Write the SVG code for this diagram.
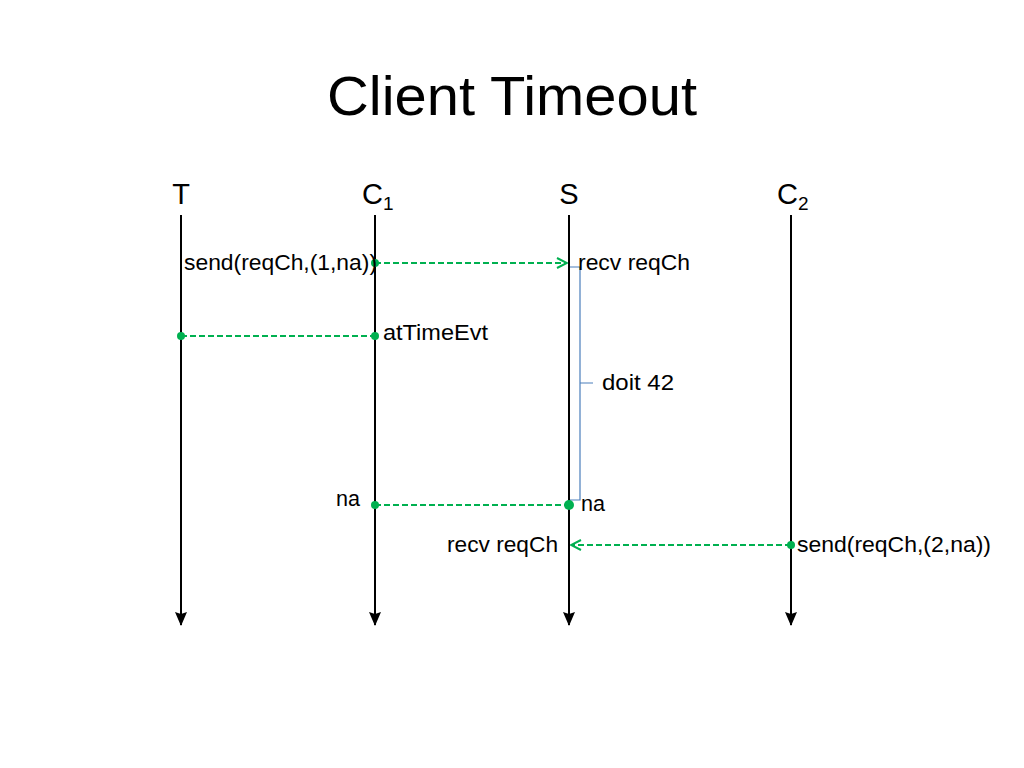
<svg xmlns="http://www.w3.org/2000/svg" width="1024" height="768" viewBox="0 0 1024 768">
<style>
text{font-family:"Liberation Sans",Arial,sans-serif;fill:#000}
.lbl{font-size:22px}
.hd{font-size:29px}
.life{stroke:#000;stroke-width:2;fill:none}
.msg{stroke:#00B050;stroke-width:2;stroke-dasharray:6 3;fill:none}
.dot{fill:#00B050}
.brace{stroke:#4A7EBB;stroke-width:1.2;fill:none}
</style>
<defs>
<marker id="ah" viewBox="0 0 14 12" refX="13" refY="6" markerWidth="14" markerHeight="12" markerUnits="userSpaceOnUse" orient="auto">
<path d="M0,0 L14,6 L0,12 L2,6 Z" fill="#000"/>
</marker>
<marker id="ga" viewBox="0 0 12 12" refX="11" refY="6" markerWidth="12" markerHeight="12" markerUnits="userSpaceOnUse" orient="auto">
<path d="M1,1 L11,6 L1,11" fill="none" stroke="#00B050" stroke-width="2"/>
</marker>
</defs>
<rect width="1024" height="768" fill="#fff"/>
<text x="512" y="115" text-anchor="middle" font-size="55" textLength="370" lengthAdjust="spacingAndGlyphs">Client Timeout</text>

<g id="lifeline-T">
<text class="hd" x="181" y="204" text-anchor="middle">T</text>
<line class="life" x1="181" y1="215" x2="181" y2="625" marker-end="url(#ah)"/>
</g>
<g id="lifeline-C1">
<text class="hd" x="362" y="204">C<tspan font-size="19" dy="6">1</tspan></text>
<line class="life" x1="375" y1="215" x2="375" y2="625" marker-end="url(#ah)"/>
</g>
<g id="lifeline-S">
<text class="hd" x="569" y="204" text-anchor="middle">S</text>
<line class="life" x1="569" y1="215" x2="569" y2="625" marker-end="url(#ah)"/>
</g>
<g id="lifeline-C2">
<text class="hd" x="777" y="204">C<tspan font-size="19" dy="6">2</tspan></text>
<line class="life" x1="791" y1="215" x2="791" y2="625" marker-end="url(#ah)"/>
</g>

<g id="brace">
<path class="brace" d="M570,267 H580 V500 H570 M580,383 H593"/>
</g>

<g id="connectors">
<line class="msg" x1="375" y1="263" x2="567" y2="263" marker-end="url(#ga)"/>
<circle class="dot" cx="375" cy="263" r="4"/>
<line class="msg" x1="181" y1="336" x2="375" y2="336"/>
<circle class="dot" cx="181" cy="336" r="4"/>
<circle class="dot" cx="375" cy="336" r="4"/>
<line class="msg" x1="375" y1="505" x2="569" y2="505"/>
<circle class="dot" cx="375" cy="505" r="4"/>
<circle class="dot" cx="569" cy="505" r="5"/>
<line class="msg" x1="791" y1="545" x2="571" y2="545" marker-end="url(#ga)"/>
<circle class="dot" cx="791" cy="545" r="4"/>
</g>

<g id="labels">
<text class="lbl" x="184" y="270" textLength="193" lengthAdjust="spacingAndGlyphs">send(reqCh,(1,na))</text>
<text class="lbl" x="578" y="270" textLength="112" lengthAdjust="spacingAndGlyphs">recv reqCh</text>
<text class="lbl" x="383" y="340" textLength="105" lengthAdjust="spacingAndGlyphs">atTimeEvt</text>
<text class="lbl" x="602" y="390" textLength="72" lengthAdjust="spacingAndGlyphs">doit 42</text>
<text class="lbl" x="336" y="506" textLength="24" lengthAdjust="spacingAndGlyphs">na</text>
<text class="lbl" x="581" y="511" textLength="24" lengthAdjust="spacingAndGlyphs">na</text>
<text class="lbl" x="447" y="552" textLength="111" lengthAdjust="spacingAndGlyphs">recv reqCh</text>
<text class="lbl" x="797" y="552" textLength="194" lengthAdjust="spacingAndGlyphs">send(reqCh,(2,na))</text>
</g>
</svg>
